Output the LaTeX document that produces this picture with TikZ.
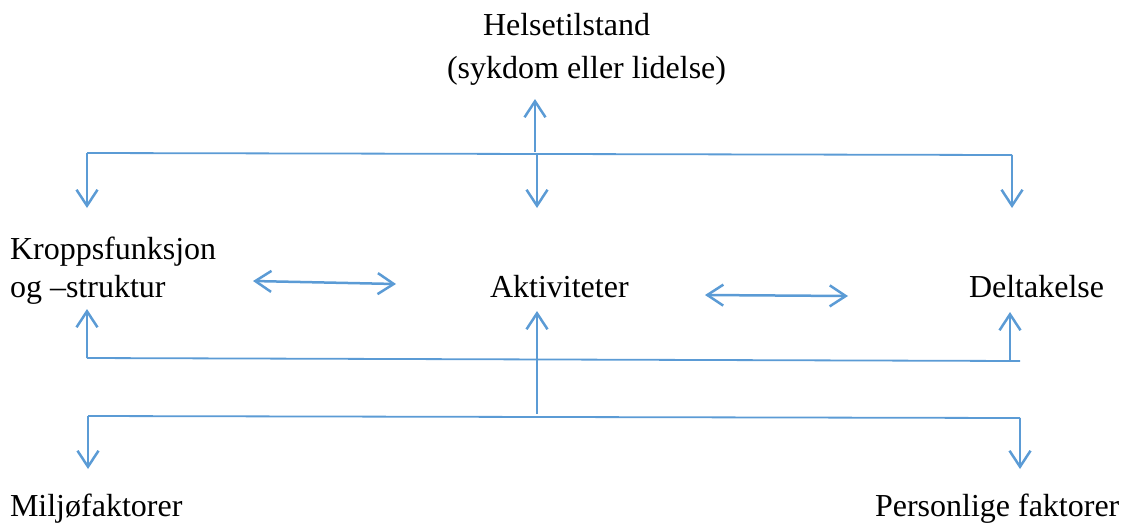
\documentclass[tikz,border=0pt]{standalone}
\usepackage{fontspec}
\setmainfont{Liberation Serif}
\usetikzlibrary{arrows.meta}
\definecolor{lineblue}{RGB}{91,155,213}
\begin{document}
\begin{tikzpicture}[x=1pt,y=-1pt,
  lbl/.style={font=\fontsize{32}{43}\selectfont, inner sep=0pt, outer sep=0pt},
  bus/.style={draw=lineblue, line width=1.8pt},
  tip/.style={Straight Barb[length=16pt,width=21pt,line width=2.5pt]},
  arr/.style={draw=lineblue, line width=2.5pt, -{Straight Barb[length=16pt,width=21pt,line width=2.5pt]}},
  darr/.style={draw=lineblue, line width=2.5pt, {Straight Barb[length=16pt,width=21pt,line width=2.5pt]}-{Straight Barb[length=16pt,width=21pt,line width=2.5pt]}}
]
\useasboundingbox (0,0) rectangle (1123,523);
% texts
\node[lbl, anchor=base west, align=left] (helse) at (447,78) {\hspace*{36pt}Helsetilstand\\(sykdom eller lidelse)};
\node[lbl, anchor=base west] (kropp1) at (10,259) {Kroppsfunksjon};
\node[lbl, anchor=base west] (kropp2) at (10,297) {og –struktur};
\node[lbl, anchor=base west] (akt) at (490,297) {Aktiviteter};
\node[lbl, anchor=base west] (delt) at (969,297) {Deltakelse};
\node[lbl, anchor=base west] (milj) at (10,516) {Miljøfaktorer};
\node[lbl, anchor=base west] (pers) at (875,516) {Personlige faktorer};
% bus coordinates
\coordinate (tL) at (87,153);
\coordinate (tM) at (537,154);
\coordinate (tR) at (1012,155);
\coordinate (mL) at (87,358);
\coordinate (mM) at (537,359);
\coordinate (mR) at (1020,361);
\coordinate (bL) at (88,416);
\coordinate (bM) at (537,414);
\coordinate (bR) at (1020,418);
% arrow tips
\coordinate (hTip) at (535,99);
\coordinate (kTip) at (87,208);
\coordinate (aTip) at (537,208);
\coordinate (dTip) at (1012,208);
\coordinate (kUp) at (87,309);
\coordinate (aUp) at (537,311);
\coordinate (dUp) at (1010,312);
\coordinate (mjTip) at (88,469);
\coordinate (psTip) at (1020,469);
\coordinate (d1a) at (253,281);
\coordinate (d1b) at (396,284);
\coordinate (d2a) at (705,295);
\coordinate (d2b) at (848,296);
% top bus
\draw[bus] (tL) -- (tR);
\draw[arr] (535,152) -- (hTip);
\draw[arr] (tL) -- (kTip);
\draw[arr] (tM) -- (aTip);
\draw[arr] (tR) -- (dTip);
% horizontal double arrows
\draw[darr] (d1a) -- (d1b);
\draw[darr] (d2a) -- (d2b);
% middle bus
\draw[bus] (mL) -- (mR);
\draw[arr] (mL) -- (kUp);
\draw[arr] (1010,361) -- (dUp);
\draw[arr] (bM) -- (aUp);
% bottom bus
\draw[bus] (bL) -- (bR);
\draw[arr] (bL) -- (mjTip);
\draw[arr] (bR) -- (psTip);
\end{tikzpicture}
\end{document}
